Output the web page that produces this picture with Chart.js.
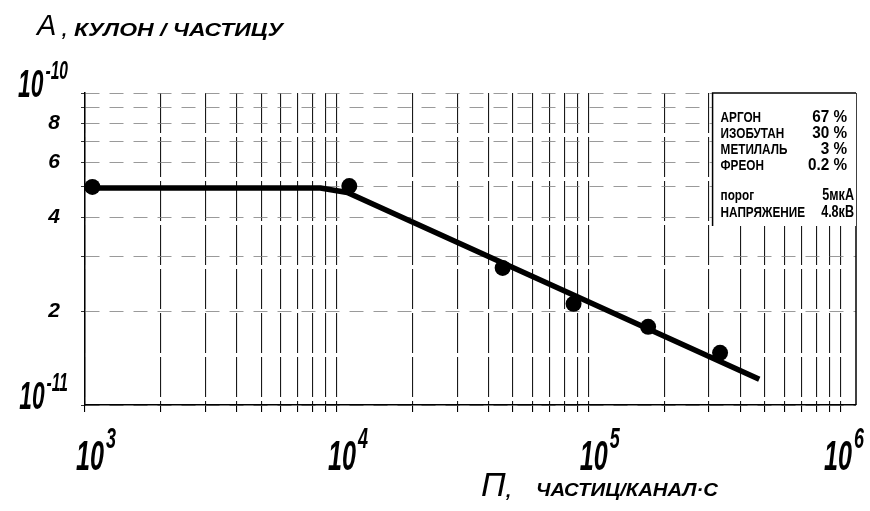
<!DOCTYPE html>
<html>
<head>
<meta charset="utf-8">
<script src="https://cdn.jsdelivr.net/npm/chart.js@4.4.1/dist/chart.umd.min.js"></script>
<style>
  html, body { margin: 0; padding: 0; background: #fff; }
  #wrap { width: 870px; height: 511px; }
</style>
</head>
<body>
<div id="wrap"><canvas id="chart" width="870" height="511"></canvas></div>
<script>
// measured points: particle rate n vs charge A per particle
const pointN = [1.07e3, 1.12e4, 4.55e4, 8.7e4, 1.72e5, 3.32e5];
const pointA = [5.0e-11, 5.03e-11, 2.75e-11, 2.11e-11, 1.78e-11, 1.47e-11];

// hand drawn fit line, vertices
const fitN = [1e3, 8.6e3, 1.1e4, 4.75e5];
const fitA = [4.96e-11, 4.96e-11, 4.8e-11, 1.21e-11];

// axis ticks
const xDecades = [1e3, 1e4, 1e5, 1e6];
const xDecadeExp = ['3', '4', '5', '6'];
const yDecades = [1e-11, 1e-10];
const yDecadeExp = ['-11', '-10'];
const yDigitTicks = [2e-11, 4e-11, 6e-11, 8e-11];
const yDigitLabels = ['2', '4', '6', '8'];
const gridSteps = [1, 2, 3, 4, 5, 6, 7, 8, 9];

// gas mixture box
const gasNames = ['АРГОН', 'ИЗОБУТАН', 'МЕТИЛАЛЬ', 'ФРЕОН'];
const gasShares = ['67 %', '30 %', '3 %', '0.2 %'];
const runNames = ['порог', 'НАПРЯЖЕНИЕ'];
const runValues = ['5мкА', '4.8кВ'];

const fam = '"Liberation Sans", "DejaVu Sans", sans-serif';

// graph paper lines: 1..9 in every decade
const xGrid = [];
[1e3, 1e4, 1e5].forEach(d => gridSteps.forEach(s => xGrid.push(s * d)));
xGrid.push(1e6);
const yGrid = gridSteps.map(s => s * 1e-11);
yGrid.push(1e-10);

// text squeezed sideways (the drawing uses a narrow stencil lettering)
function squeezed(ctx, str, x, y, font, sx, align) {
  ctx.save();
  ctx.font = font;
  const w = ctx.measureText(str).width * sx;
  ctx.translate(align === 'right' ? x - w : x, y);
  ctx.scale(sx, 1);
  ctx.textAlign = 'left';
  ctx.fillText(str, 0, 0);
  ctx.restore();
  return w;
}

// text stretched to span left..right
function spanned(ctx, str, left, right, y, font) {
  ctx.save();
  ctx.font = font;
  const sx = (right - left) / ctx.measureText(str).width;
  ctx.restore();
  squeezed(ctx, str, left, y, font, sx, 'left');
}

function powerWidth(ctx, exp, big, small) {
  ctx.save();
  ctx.font = 'italic bold ' + big + 'px ' + fam;
  const w = ctx.measureText('10').width * 0.6;
  ctx.font = 'italic bold ' + small + 'px ' + fam;
  const e = ctx.measureText(exp).width * 0.6;
  ctx.restore();
  return w + 2 + e;
}

function power(ctx, left, base, exp, big, small, rise) {
  const w = squeezed(ctx, '10', left, base, 'italic bold ' + big + 'px ' + fam, 0.6, 'left');
  squeezed(ctx, exp, left + w + 2, base - rise, 'italic bold ' + small + 'px ' + fam, 0.6, 'left');
}

const paper = {
  id: 'paper',
  afterDraw(chart) {
    const { ctx, chartArea: a, scales: { x, y } } = chart;
    ctx.save();

    // right edge of the paper
    ctx.strokeStyle = '#000';
    ctx.lineWidth = 1.5;
    ctx.beginPath();
    ctx.moveTo(a.right, a.top);
    ctx.lineTo(a.right, a.bottom);
    ctx.stroke();

    ctx.fillStyle = '#000';
    ctx.textBaseline = 'alphabetic';

    // decade labels
    xDecades.forEach((v, i) => {
      const w = powerWidth(ctx, xDecadeExp[i], 42, 30);
      const left = Math.min(x.getPixelForValue(v) - 9, chart.width - 6 - w);
      power(ctx, left, a.bottom + 65, xDecadeExp[i], 42, 30, 22);
    });
    yDecades.forEach((v, i) => {
      const w = powerWidth(ctx, yDecadeExp[i], 38, 26);
      power(ctx, 68 - w, y.getPixelForValue(v) + 4, yDecadeExp[i], 38, 26, 18);
    });

    // axis titles
    ctx.font = 'italic 29px ' + fam;
    ctx.textAlign = 'left';
    ctx.fillText('A', 37, 35);
    ctx.font = 'italic bold 18px ' + fam;
    ctx.fillText(',', 62, 36);
    spanned(ctx, 'КУЛОН / ЧАСТИЦУ', 74, 283, 36, 'italic bold 19px ' + fam);

    ctx.font = 'italic 34px ' + fam;
    ctx.fillText('П', 481, 496);
    ctx.font = 'italic bold 19px ' + fam;
    ctx.fillText(',', 506, 497);
    spanned(ctx, 'ЧАСТИЦ/КАНАЛ·С', 536, 718, 496, 'italic bold 18px ' + fam);

    // gas mixture box
    const bx = x.getPixelForValue(3.1e5);
    const by = a.top;
    const bb = a.top + 133;
    ctx.fillStyle = '#fff';
    ctx.fillRect(bx, by, a.right - bx, bb - by);
    ctx.strokeStyle = '#000';
    ctx.lineWidth = 1.5;
    ctx.beginPath();
    ctx.moveTo(bx, bb);
    ctx.lineTo(bx, by);
    ctx.lineTo(a.right, by);
    ctx.stroke();

    ctx.fillStyle = '#000';
    const nameFont = 'bold 14px ' + fam;
    const valFont = 'bold 17px ' + fam;
    const rows = [122, 138, 154, 170];
    gasNames.forEach((n, i) => {
      squeezed(ctx, n, bx + 8, rows[i], nameFont, 0.84, 'left');
      squeezed(ctx, gasShares[i], a.right - 9, rows[i], valFont, 0.9, 'right');
    });
    const rows2 = [200, 217];
    runNames.forEach((n, i) => {
      squeezed(ctx, n, bx + 8, rows2[i], nameFont, 0.84, 'left');
      squeezed(ctx, runValues[i], a.right - 2, rows2[i], valFont, 0.74, 'right');
    });

    ctx.restore();
  }
};

new Chart(document.getElementById('chart'), {
  type: 'scatter',
  data: {
    datasets: [
      {
        label: 'fit',
        data: fitN.map((n, i) => ({ x: n, y: fitA[i] })),
        showLine: true,
        borderColor: '#000',
        borderWidth: 5.5,
        pointRadius: 0,
        borderCapStyle: 'butt',
        borderJoinStyle: 'round',
        tension: 0
      },
      {
        label: 'measured',
        data: pointN.map((n, i) => ({ x: n, y: pointA[i] })),
        showLine: false,
        pointRadius: 8,
        pointBackgroundColor: '#000',
        pointBorderColor: '#000',
        pointBorderWidth: 0
      }
    ]
  },
  options: {
    responsive: false,
    animation: false,
    devicePixelRatio: 1,
    layout: { padding: { top: 93, right: 14, left: 0, bottom: 0 } },
    plugins: {
      legend: { display: false },
      tooltip: { enabled: false }
    },
    scales: {
      x: {
        type: 'logarithmic',
        min: 1e3,
        max: 1.15e6,
        afterBuildTicks: s => { s.ticks = xGrid.map(v => ({ value: v })); },
        afterFit: s => { s.height = 106; },
        ticks: { display: false, autoSkip: false },
        grid: {
          color: '#1a1a1a',
          lineWidth: 1.1,
          tickLength: 7,
          tickColor: '#000'
        },
        border: { display: true, color: '#000', width: 1.5, dash: [40, 4] }
      },
      y: {
        type: 'logarithmic',
        min: 1e-11,
        max: 1e-10,
        afterBuildTicks: s => { s.ticks = yGrid.map(v => ({ value: v })); },
        afterFit: s => { s.width = 85; },
        ticks: {
          autoSkip: false,
          color: '#000',
          padding: 21,
          font: { family: fam, size: 21, style: 'italic', weight: 'bold' },
          callback: v => {
            const i = yDigitTicks.findIndex(t => Math.abs(v / t - 1) < 1e-6);
            return i >= 0 ? yDigitLabels[i] : '';
          }
        },
        grid: {
          color: '#808080',
          lineWidth: 0.8,
          tickLength: 4,
          tickColor: '#000'
        },
        border: { display: true, color: '#000', width: 1.5, dash: [14, 10] }
      }
    }
  },
  plugins: [paper]
});
</script>
</body>
</html>
